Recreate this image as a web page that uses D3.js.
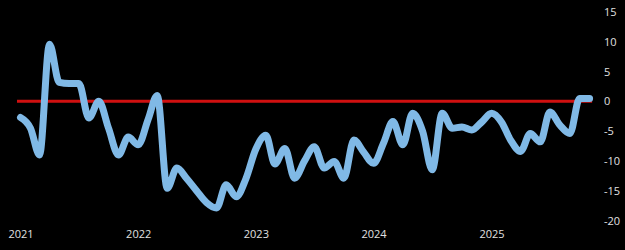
<!DOCTYPE html>
<html>
<head>
<meta charset="utf-8">
<script src="https://cdn.jsdelivr.net/npm/d3@7"></script>
<style>
    html, body { margin: 0; padding: 0; background: #000; }
    svg { display: block; }
    .tick text { font-family: "Open Sans", "Liberation Sans", sans-serif; font-size: 11px; fill: #e0e0e0; }
</style>
</head>
<body>
<svg id="chart" width="625" height="250"></svg>
<script>
// monthly values, Jan 2021 .. Nov 2025
const startMonth = "2021-01";
const values = [
    -2.7, -4.5, -9, 9.6, 3.2, 3.0, 3.0, -2.8, 0, -4.5,
    -9, -6, -7.3, -3, 1, -14.6, -11.2, -13, -15, -17,
    -17.9, -14, -16, -13, -8, -5.7, -10.5, -7.9, -12.9, -10,
    -7.6, -11.2, -10.1, -12.9, -6.5, -8.5, -10.4, -7, -3.4, -7.3,
    -2, -5, -11.5, -2, -4.5, -4.3, -4.8, -3.5, -2, -3.5,
    -6.5, -8.4, -5.4, -6.8, -1.8, -4, -5.4, 0.5, 0.5
];
const yTicks = [-20, -15, -10, -5, 0, 5, 10, 15];
const yearTicks = ["2021", "2022", "2023", "2024", "2025"];

const parseMonth = d3.timeParse("%Y-%m");
const t0 = parseMonth(startMonth);
const data = values.map((v, i) => ({ date: d3.timeMonth.offset(t0, i), value: v }));

const svg = d3.select("#chart");

const x = d3.scaleTime()
    .domain([t0, new Date(2026, 0, 1)])
    .range([20.5, 609.25]);

const y = d3.scaleLinear()
    .domain([-20, 15])
    .range([220.5, 12]);

// zero line
const first = data[0].date, last = data[data.length - 1].date;
svg.append("line")
    .attr("x1", x(first) - 3.5)
    .attr("x2", x(last) + 2.5)
    .attr("y1", y(0))
    .attr("y2", y(0))
    .attr("stroke", "#d01010")
    .attr("stroke-width", 3);

// series
const line = d3.line()
    .x((d) => x(d.date))
    .y((d) => y(d.value))
    .curve(d3.curveMonotoneX);

svg.append("path")
    .datum(data)
    .attr("d", line)
    .attr("fill", "none")
    .attr("stroke", "#80b9e6")
    .attr("stroke-width", 7)
    .attr("stroke-linecap", "round")
    .attr("stroke-linejoin", "round");

// axes
const yAxis = d3.axisRight(y)
    .tickValues(yTicks)
    .tickFormat((d) => String(d))
    .tickSize(0)
    .tickPadding(0);

svg.append("g")
    .attr("transform", "translate(604,0)")
    .call(yAxis)
    .call((g) => g.select(".domain").remove());

const xAxis = d3.axisBottom(x)
    .tickValues(yearTicks.map((s) => d3.timeParse("%Y")(s)))
    .tickFormat(d3.timeFormat("%Y"))
    .tickSize(0)
    .tickPadding(0);

svg.append("g")
    .attr("transform", "translate(0,230)")
    .call(xAxis)
    .call((g) => g.select(".domain").remove());
</script>
</body>
</html>
